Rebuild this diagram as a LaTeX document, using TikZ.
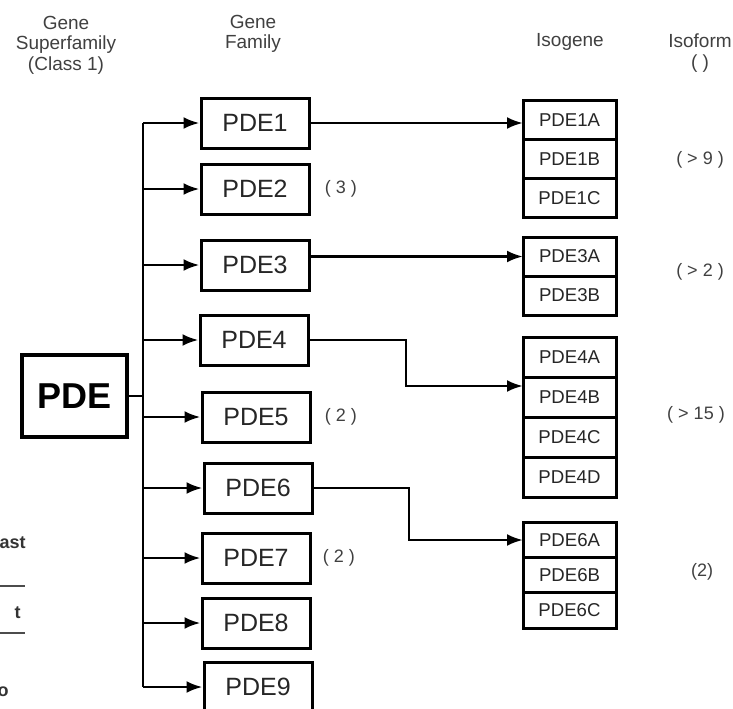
\documentclass[tikz,border=0pt]{standalone}
\usepackage{fontspec}
\setmainfont{Liberation Sans}
\usetikzlibrary{arrows.meta,positioning}

\begin{document}
\begin{tikzpicture}[
  x=0.5pt, y=-0.5pt,
  >={Latex[length=8pt,width=6pt]},
  line width=1.4pt,
  heading/.style={font=\fontsize{9.5}{10.3}\selectfont, align=center, text=black!75},
  superfamily/.style={draw, line width=1.6pt, minimum width=52.5pt, minimum height=41pt,
    font=\fontsize{18}{20}\selectfont\bfseries},
  family/.style={draw, line width=1.5pt, minimum width=54pt, minimum height=25pt,
    font=\fontsize{12.5}{14}\selectfont, text=black!85},
  isogene/.style={draw, line width=1.5pt, outer sep=0pt, minimum width=46.5pt,
    font=\fontsize{9.3}{10}\selectfont, text=black!85},
  count/.style={font=\fontsize{9}{10}\selectfont, text=black!75, inner sep=0pt},
  link/.style={->, line width=1.4pt},
  fragment/.style={font=\fontsize{9}{10}\selectfont\bfseries, text=black!80, inner sep=0pt}
]
  \useasboundingbox (0,0) rectangle (733,708);

  % column headings
  \node[heading] (hsuper) at (66,45) {Gene\\Superfamily\\(Class 1)};
  \node[heading] (hfam) at (253,34) {Gene\\Family};
  \node[heading] (hiso) at (570,42) {Isogene};
  \node[heading] (hform) at (700,53) {Isoform\\( )};

  % superfamily and trunk
  \node[superfamily] (pde) at (74.5,396) {PDE};
  \coordinate (trunk) at (143,0);

  % gene families
  \node[family] (p1) at (255,123) {PDE1};
  \node[family] (p2) at (255,189) {PDE2};
  \node[family] (p3) at (255,265) {PDE3};
  \node[family] (p4) at (254,340) {PDE4};
  \node[family] (p5) at (256,417) {PDE5};
  \node[family] (p6) at (258,488) {PDE6};
  \node[family] (p7) at (256,558) {PDE7};
  \node[family] (p8) at (256,623) {PDE8};
  \node[family] (p9) at (258,687) {PDE9};

  \node[count, right=6.5pt of p2] (c2) {( 3 )};
  \node[count, right=6pt of p5] (c5) {( 2 )};
  \node[count, right=5pt of p7] (c7) {( 2 )};

  \draw (pde.east) -- (pde.east -| trunk);
  \draw (trunk |- p1) -- (trunk |- p9);
  \foreach \i in {1,...,9}
    \draw[link] (trunk |- p\i) -- (p\i);

  % isogenes
  \node[isogene, minimum height=19.6pt] (1a) at (569.5,119.7) {PDE1A};
  \node[isogene, minimum height=19.6pt, below=0pt of 1a] (1b) {PDE1B};
  \node[isogene, minimum height=19.6pt, below=0pt of 1b] (1c) {PDE1C};

  \node[isogene, minimum height=19.5pt] (3a) at (569.5,256.5) {PDE3A};
  \node[isogene, minimum height=19.5pt, below=0pt of 3a] (3b) {PDE3B};

  \node[isogene, minimum height=20pt] (4a) at (569.5,357) {PDE4A};
  \node[isogene, minimum height=20pt, below=0pt of 4a] (4b) {PDE4B};
  \node[isogene, minimum height=20pt, below=0pt of 4b] (4c) {PDE4C};
  \node[isogene, minimum height=20pt, below=0pt of 4c] (4d) {PDE4D};

  \node[isogene, minimum height=17.7pt] (6a) at (569.5,539.7) {PDE6A};
  \node[isogene, minimum height=17.7pt, below=0pt of 6a] (6b) {PDE6B};
  \node[isogene, minimum height=17.7pt, below=0pt of 6b] (6c) {PDE6C};

  \coordinate (bend4) at (406,386);
  \coordinate (bend6) at (409,540);
  \draw[link] (p1.east) -- (p1.east -| 1a.west);
  \draw[link] (p3.east |- 3a) -- (3a.west);
  \draw[link] (p4.east) -| (bend4) -- (bend4 -| 4b.west);
  \draw[link] (p6.east) -| (bend6) -- (bend6 -| 6a.west);

  % isoform counts
  \node[count] (f1) at (700,160) {( > 9 )};
  \node[count] (f3) at (700,272) {( > 2 )};
  \node[count] (f4) at (696,415) {( > 15 )};
  \node[count] (f6) at (702,572) {(2)};

  % cut-off edge of the neighbouring panel
  \node[fragment, anchor=east] (ast) at (27,543) {ast};
  \node[fragment, anchor=east] (t) at (22,613) {t};
  \node[fragment, anchor=east] (o) at (10,692) {o};
  \draw[line width=1pt, black!70] (0,586) -- (25,586);
  \draw[line width=1pt, black!70] (0,633) -- (25,633);
\end{tikzpicture}
\end{document}
